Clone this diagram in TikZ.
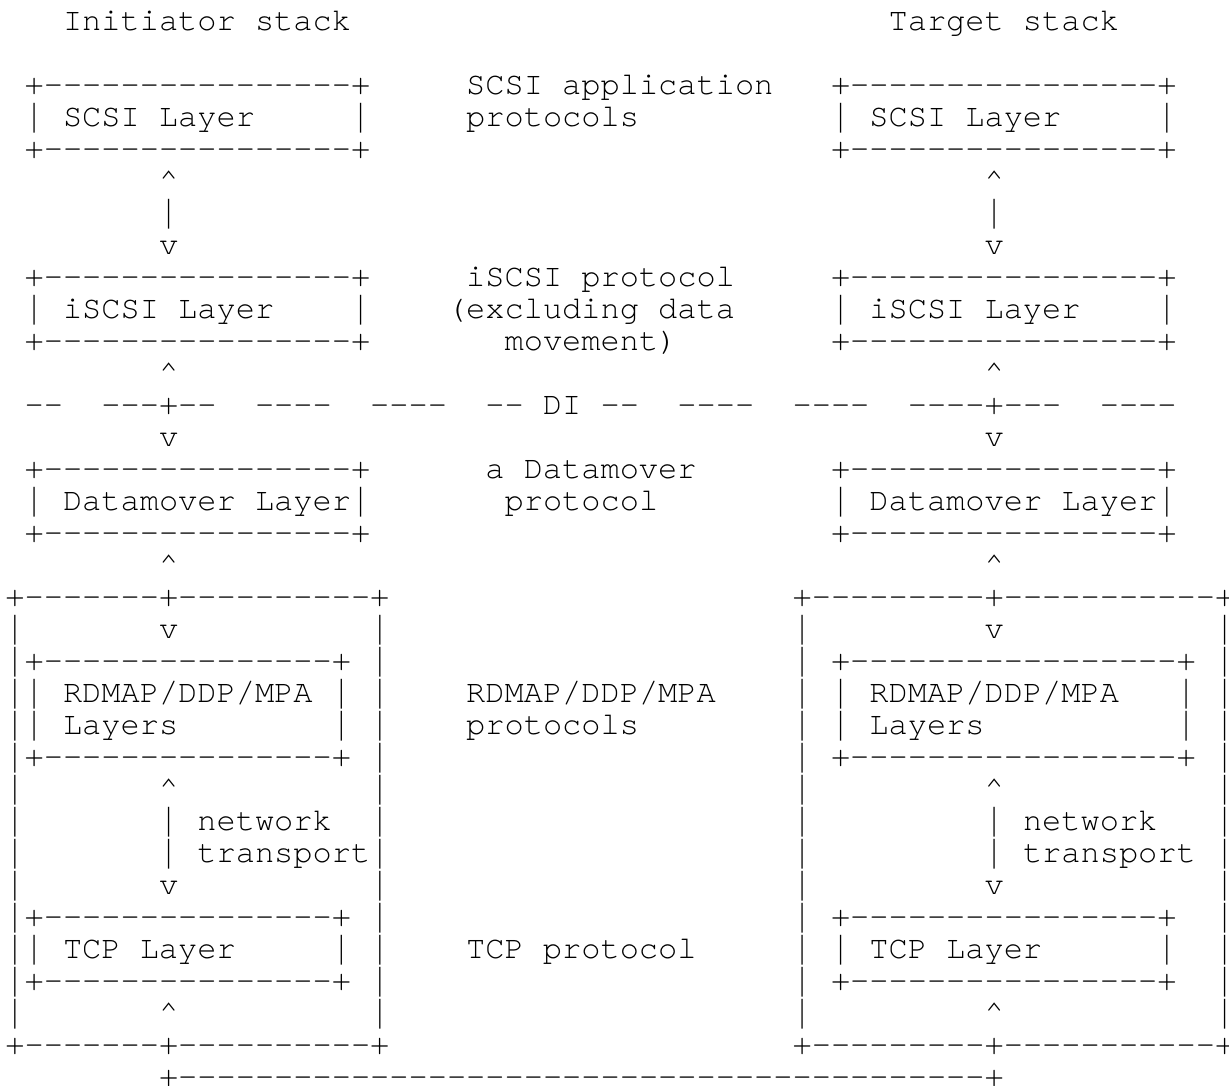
\documentclass[tikz,border=0pt]{standalone}
\usepackage{fontspec}
\setmonofont{TeX Gyre Cursor}
\newfontfamily\barfont{Liberation Mono}
\newcommand\asciifont{\ttfamily\fontsize{16pt}{16pt}\selectfont}
\newcommand\vbar{\makebox[9.6pt]{\scalebox{0.5}[1]{\barfont|}}}
\newcommand\dashrun[1]{\foreach\dd in {1,...,#1}{-}}
\begin{document}
\begin{tikzpicture}[x=9.6pt,y=-16pt,
    ascii/.style={anchor=base west,inner sep=0pt,outer sep=0pt,font=\asciifont}]
  \useasboundingbox (-0.28125,-0.959) rectangle (63.729,32.978);

  % stack titles
  \node[ascii] (initTitle) at (3,0) {Initiator stack};
  \node[ascii] (tgtTitle) at (46,0) {Target stack};

  % layer boxes: name/col/row/dashes/text rows
  \foreach \nm/\bx/\by/\bw/\bh in {scsiL/1/2/16/1, scsiR/43/2/16/1,
      iscsiL/1/8/16/1, iscsiR/43/8/16/1, dmL/1/14/16/1, dmR/43/14/16/1,
      rdmaL/1/20/15/2, rdmaR/43/20/17/2, tcpL/1/28/15/1, tcpR/43/28/16/1}{
    \node[ascii] (\nm-top) at (\bx,\by) {+\dashrun{\bw}+};
    \node[ascii] (\nm-bot) at (\bx,\by+\bh+1) {+\dashrun{\bw}+};
    \foreach \k in {1,...,\bh}{
      \node[ascii] (\nm-w\k) at (\bx,\by+\k) {\vbar};
      \node[ascii] (\nm-e\k) at (\bx+\bw+1,\by+\k) {\vbar};
    }
  }
  \node[ascii] (scsiL-txt) at (3,3) {SCSI Layer};
  \node[ascii] (scsiR-txt) at (45,3) {SCSI Layer};
  \node[ascii] (iscsiL-txt) at (3,9) {iSCSI Layer};
  \node[ascii] (iscsiR-txt) at (45,9) {iSCSI Layer};
  \node[ascii] (dmL-txt) at (3,15) {Datamover Layer};
  \node[ascii] (dmR-txt) at (45,15) {Datamover Layer};
  \node[ascii] (rdmaL-txt) at (3,21) {RDMAP/DDP/MPA};
  \node[ascii] (rdmaL-txt2) at (3,22) {Layers};
  \node[ascii] (rdmaR-txt) at (45,21) {RDMAP/DDP/MPA};
  \node[ascii] (rdmaR-txt2) at (45,22) {Layers};
  \node[ascii] (tcpL-txt) at (3,29) {TCP Layer};
  \node[ascii] (tcpR-txt) at (45,29) {TCP Layer};

  % RNIC enclosures and the wire between them
  \node[ascii] (nicL-top) at (0,18) {+\dashrun{7}+\dashrun{10}+};
  \node[ascii] (nicL-bot) at (0,32) {+\dashrun{7}+\dashrun{10}+};
  \node[ascii] (nicR-top) at (41,18) {+\dashrun{9}+\dashrun{11}+};
  \node[ascii] (nicR-bot) at (41,32) {+\dashrun{9}+\dashrun{11}+};
  \foreach \k in {19,...,31}{
    \node[ascii] (nicL-w\k) at (0,\k) {\vbar};
    \node[ascii] (nicL-e\k) at (19,\k) {\vbar};
    \node[ascii] (nicR-w\k) at (41,\k) {\vbar};
    \node[ascii] (nicR-e\k) at (63,\k) {\vbar};
  }
  \node[ascii] (wire) at (8,33) {+\dashrun{42}+};

  % up/down arrows on both stacks
  \foreach \sd/\ac in {L/8, R/51}{
    \node[ascii] (up1\sd) at (\ac,5) {\textasciicircum};
    \node[ascii] (bar1\sd) at (\ac,6) {\vbar};
    \node[ascii] (dn1\sd) at (\ac,7) {v};
    \node[ascii] (up2\sd) at (\ac,11) {\textasciicircum};
    \node[ascii] (dn2\sd) at (\ac,13) {v};
    \node[ascii] (up3\sd) at (\ac,17) {\textasciicircum};
    \node[ascii] (dn3\sd) at (\ac,19) {v};
    \node[ascii] (up4\sd) at (\ac,24) {\textasciicircum};
    \node[ascii] (bar4a\sd) at (\ac,25) {\vbar};
    \node[ascii] (bar4b\sd) at (\ac,26) {\vbar};
    \node[ascii] (dn4\sd) at (\ac,27) {v};
    \node[ascii] (up5\sd) at (\ac,31) {\textasciicircum};
    \node[ascii] (net\sd) at (\ac+2,25) {network};
    \node[ascii] (trans\sd) at (\ac+2,26) {transport};
  }

  % DI line
  \foreach \nm/\dc/\dn in {di1/1/2, di3/13/4, di4/19/4, di6/35/4, di7/41/4, di9/57/4}{
    \node[ascii] (\nm) at (\dc,12) {\dashrun{\dn}};
  }
  \node[ascii] (di2) at (5,12) {\dashrun{3}+\dashrun{2}};
  \node[ascii] (di5) at (25,12) {\dashrun{2} DI \dashrun{2}};
  \node[ascii] (di8) at (47,12) {\dashrun{4}+\dashrun{3}};

  % protocols in the middle
  \node[ascii] (appProto) at (24,2) {SCSI application};
  \node[ascii] (appProto2) at (24,3) {protocols};
  \node[ascii] (iscsiProto) at (24,8) {iSCSI protocol};
  \node[ascii] (iscsiProto2) at (23,9) {(excluding data};
  \node[ascii] (iscsiProto3) at (26,10) {movement)};
  \node[ascii] (dmProto) at (25,14) {a Datamover};
  \node[ascii] (dmProto2) at (26,15) {protocol};
  \node[ascii] (rdmaProto) at (24,21) {RDMAP/DDP/MPA};
  \node[ascii] (rdmaProto2) at (24,22) {protocols};
  \node[ascii] (tcpProto) at (24,29) {TCP protocol};
\end{tikzpicture}
\end{document}
